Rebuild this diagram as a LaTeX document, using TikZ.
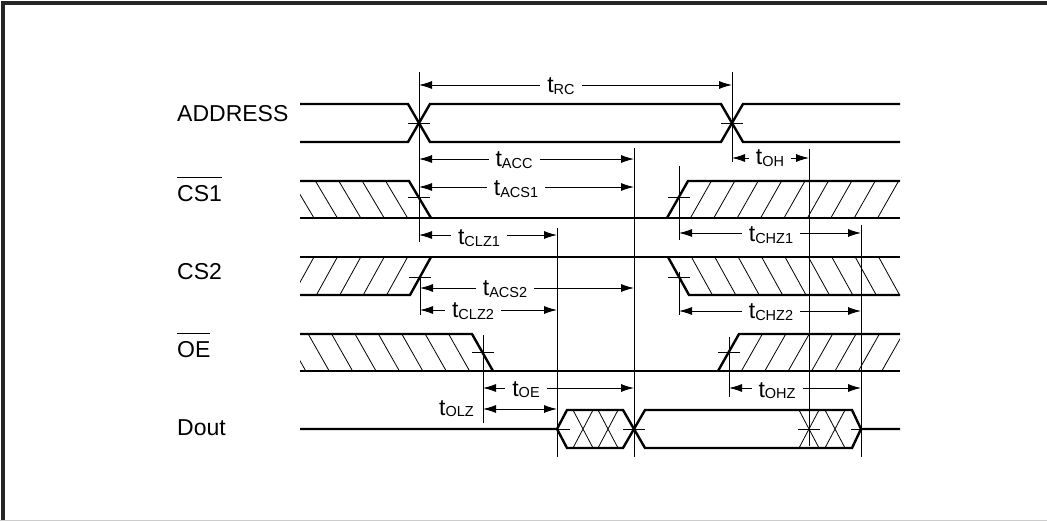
\documentclass[tikz,border=0pt]{standalone}
\usepackage{fontspec}
\setmainfont{Liberation Sans}
\usetikzlibrary{arrows.meta}

\newcommand{\tsym}[1]{t\raisebox{-1.5pt}{\fontsize{14.5}{15}\selectfont #1}}
\newcommand{\negsig}[1]{\setbox0\hbox{#1}\rlap{\raisebox{\dimexpr\ht0+8pt\relax}{\rule{\wd0}{1pt}}}\box0}

\begin{document}
\begin{tikzpicture}[x=1pt,y=-1pt,every node/.style={font=\fontsize{23}{26}\selectfont}]
\tikzstyle{sig}=[line width=2.4pt, line join=miter]
\tikzstyle{guide}=[line width=0.9pt]
\tikzstyle{hatch}=[line width=0.8pt]
\tikzstyle{dim}=[{Latex[length=13pt,width=8pt]}-{Latex[length=13pt,width=8pt]}, line width=0.9pt]
\tikzstyle{lbl}=[fill=white, inner xsep=7pt, inner ysep=1pt, anchor=base]
\tikzstyle{signame}=[anchor=base west, inner sep=0pt]

  \useasboundingbox (0,0) rectangle (1047,521);
  % frame
  \draw[line width=3.5pt, black!85] (3,521) -- (3,3) -- (1047,3);
  \draw[gray!40, line width=1pt] (0,520) -- (1047,520);

  % signal names
  \node[signame] (address) at (177,122) {ADDRESS};
  \node[signame] (cs1) at (177,202) {\negsig{CS1}};
  \node[signame] (cs2) at (177,280) {CS2};
  \node[signame] (oe) at (177,358) {\negsig{OE}};
  \node[signame] (dout) at (177,435) {Dout};

  % ADDRESS
  \draw[sig] (300,104) -- (408,104) -- (430,142) -- (721,142) -- (743,104) -- (900,104);
  \draw[sig] (300,142) -- (408,142) -- (430,104) -- (721,104) -- (743,142) -- (900,142);

  % CS1
  \draw[sig] (300,218) -- (900,218);
  \draw[sig] (300,181) -- (409,181) -- (431,218);
  \draw[sig] (667,218) -- (688,181) -- (900,181);
  \begin{scope}
    \clip (300,181) -- (409,181) -- (431,218) -- (300,218) -- cycle;
    \foreach \k in {1,...,5} \draw[hatch] ({409-23.4*\k},181) -- ++(22,37);
  \end{scope}
  \begin{scope}
    \clip (688,181) -- (900,181) -- (900,218) -- (667,218) -- cycle;
    \foreach \k in {1,...,10} \draw[hatch] ({667+23.4*\k},218) -- ++(21,-37);
  \end{scope}

  % CS2
  \draw[sig] (300,257) -- (900,257);
  \draw[sig] (300,295) -- (410,295) -- (431,257);
  \draw[sig] (668,257) -- (689,295) -- (900,295);
  \begin{scope}
    \clip (300,257) -- (431,257) -- (410,295) -- (300,295) -- cycle;
    \foreach \k in {1,...,6} \draw[hatch] ({410-23.4*\k},295) -- ++(21,-38);
  \end{scope}
  \begin{scope}
    \clip (668,257) -- (900,257) -- (900,295) -- (689,295) -- cycle;
    \foreach \k in {1,...,10} \draw[hatch] ({668+23.4*\k},257) -- ++(21,38);
  \end{scope}

  % OE
  \draw[sig] (300,371) -- (900,371);
  \draw[sig] (300,334) -- (472,334) -- (493,371);
  \draw[sig] (718,371) -- (739,334) -- (900,334);
  \begin{scope}
    \clip (300,334) -- (472,334) -- (493,371) -- (300,371) -- cycle;
    \foreach \k in {1,...,8} \draw[hatch] ({472-23.4*\k},334) -- ++(21,37);
  \end{scope}
  \begin{scope}
    \clip (739,334) -- (900,334) -- (900,371) -- (718,371) -- cycle;
    \foreach \k in {1,...,8} \draw[hatch] ({718+23.4*\k},371) -- ++(21,-37);
  \end{scope}

  % Dout
  \draw[sig] (300,429) -- (557,429) -- (567,410) -- (623,410) -- (645,448) -- (852,448) -- (861,429) -- (900,429);
  \draw[sig] (557,429) -- (567,448) -- (623,448) -- (645,410) -- (852,410) -- (861,429);
  \foreach \c in {583,608,809,835}
    \draw[hatch] ({\c-10},410) -- ({\c+10},448) ({\c+10},410) -- ({\c-10},448);

  % guide lines
  \draw[guide] (419,72) -- (419,242) (420,274) -- (420,315)
    (732,72) -- (732,162) (634,148) -- (634,457) (809,149) -- (809,446)
    (679,166) -- (679,240) (679,272) -- (679,315)
    (557,228) -- (557,457) (861,225) -- (861,457)
    (483,335) -- (483,423) (729,337) -- (729,397);
  % ticks
  \draw[guide] (408,123) -- (430,123) (721,123) -- (743,123)
    (408,197) -- (430,197) (668,197) -- (690,197)
    (409,277) -- (431,277) (668,277) -- (690,277)
    (472,352) -- (494,352) (718,352) -- (740,352)
    (557,429) -- (570,429) (623,429) -- (645,429)
    (798,429) -- (820,429) (851,429) -- (861,429);

  % timing
  \foreach \n/\xa/\xb/\y/\lx/\lb/\s in {
      rc/419/732/85/561/93/RC, acc/419/634/159/514/167/ACC,
      oh/732/809/158/770/165/OH, acsa/419/634/187/516/196/ACS1,
      clza/419/557/235/479/245/CLZ1, chza/679/861/233/771/242/CHZ1,
      acsb/420/634/288/505/296/ACS2, clzb/420/557/310/473/318/CLZ2,
      chzb/679/861/311/771/319/CHZ2, oe/483/634/388/526/396/OE,
      ohz/729/861/388/777/397/OHZ}{
    \coordinate (\n0) at (\xa,\y);
    \coordinate (\n1) at (\xb,\y);
    \draw[dim] (\n0) -- (\n1);
    \node[lbl] (t-\n) at (\lx,\lb) {\tsym{\s}};
  }
  \coordinate (olz0) at (483,409);
  \coordinate (olz1) at (557,409);
  \draw[dim] (olz0) -- (olz1);
  \node[lbl, anchor=base east, fill=none, inner xsep=0pt] (t-olz) at (474,415) {\tsym{OLZ}};
\end{tikzpicture}
\end{document}
